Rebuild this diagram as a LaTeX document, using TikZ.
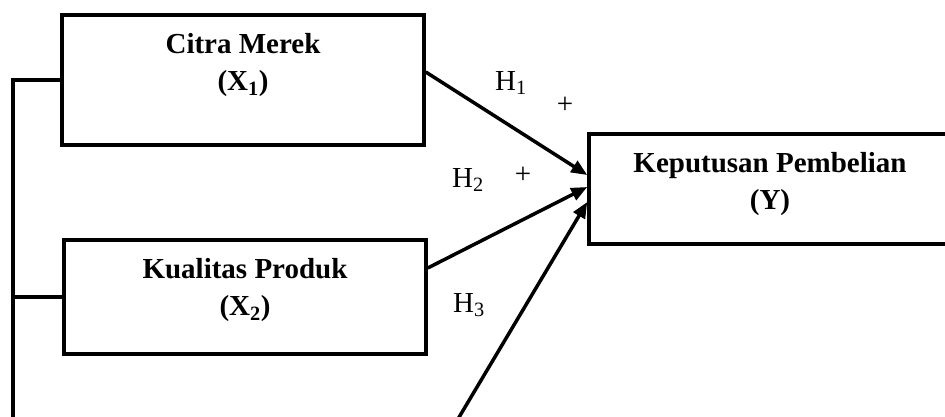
\documentclass[tikz,border=0pt]{standalone}
\usepackage{fontspec}
\setmainfont{Liberation Serif}
\usetikzlibrary{arrows.meta, positioning}

\begin{document}
\begin{tikzpicture}[x=1pt, y=1pt,
        box/.style={draw, line width=3.5pt, minimum width=362pt, inner sep=0pt},
        boxtext/.style={font=\fontsize{29}{37}\selectfont\bfseries, align=center, inner sep=0pt},
        hyp/.style={font=\fontsize{29}{35}\selectfont, inner sep=0pt}]
        \useasboundingbox (0,0) rectangle (945,416);
        \clip (0,0) rectangle (945,416);

        \node (citra) [box, minimum height=130pt] at (243,336) {};
        \node (kualitas) [box, minimum height=114pt] at (245,119) {};
        \node (keputusan) [box, minimum height=110pt] at (770,227) {};

        \node (citraT) [boxtext, below=20pt of citra.north] {Citra Merek\\(X\textsubscript{1})};
        \node (kualitasT) [boxtext, below=20pt of kualitas.north] {Kualitas Produk\\(X\textsubscript{2})};
        \node (keputusanT) [boxtext, below=20pt of keputusan.north] {Keputusan Pembelian\\(Y)};

        \coordinate (linebot) at (13,-10);
        \coordinate (h3start) at (455,-8);

        \draw[line width=3.5pt] (linebot) |- (citra.west);
        \draw[line width=3.5pt] (kualitas.west -| linebot) -- (kualitas.west);

        \path[-{Triangle[length=16pt,width=13pt]}, line width=3.5pt]
        ([yshift=8pt]citra.east) edge ([yshift=14pt]keputusan.west)
        ([yshift=29pt]kualitas.east) edge ([yshift=2pt]keputusan.west)
        (h3start) edge ([yshift=-13pt]keputusan.west);

        \node (h1) [hyp, anchor=base west] at (495,326) {H\textsubscript{1}};
        \node (p1) [hyp] at (565,311) {+};
        \node (h2) [hyp, anchor=base west] at (452,229) {H\textsubscript{2}};
        \node (p2) [hyp] at (523,241) {+};
        \node (h3) [hyp, anchor=base west] at (453,104) {H\textsubscript{3}};

    \end{tikzpicture}
\end{document}
